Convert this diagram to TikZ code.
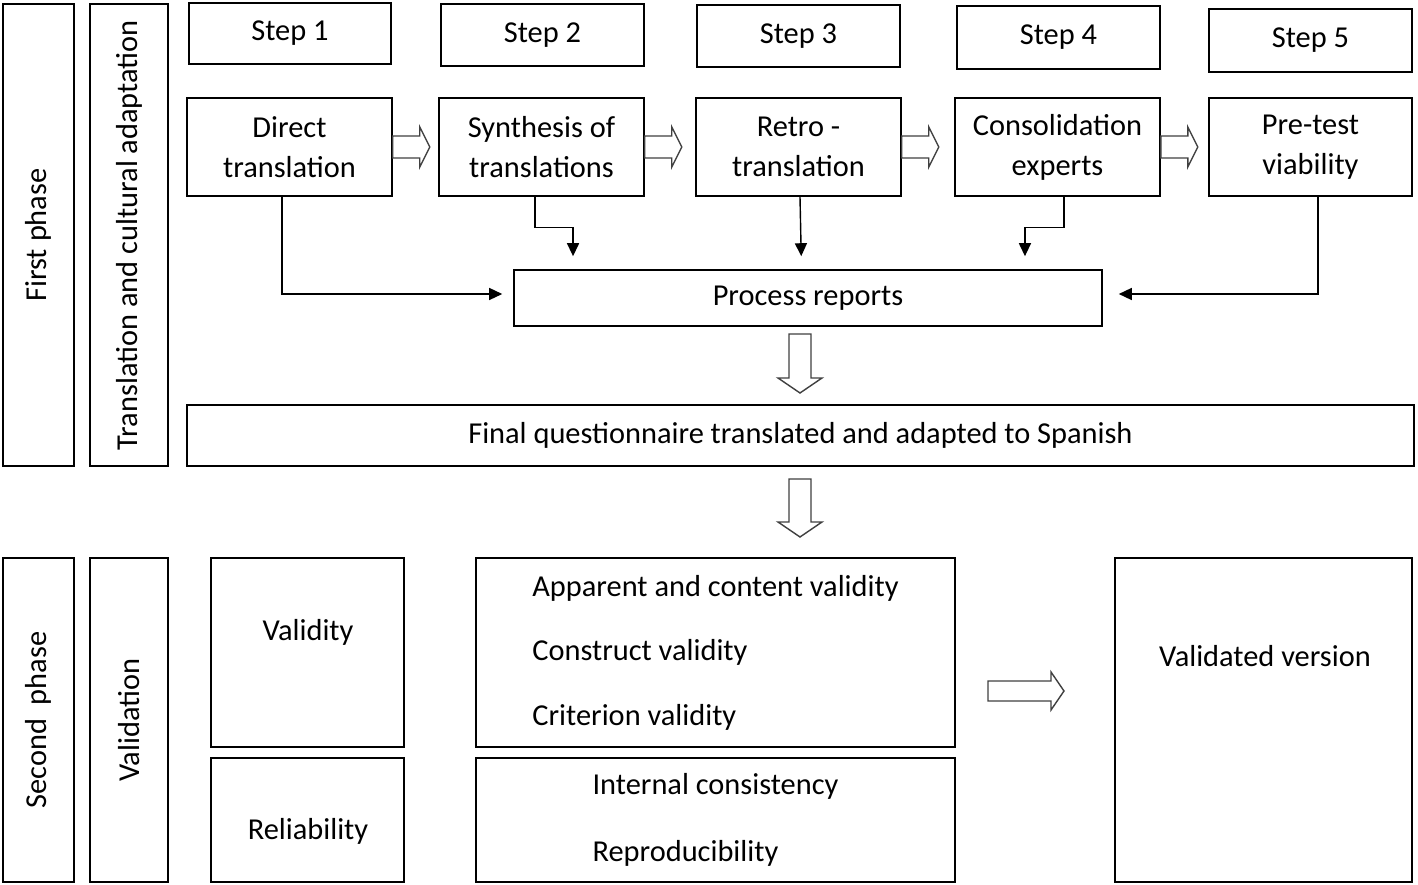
\documentclass[tikz,border=0pt]{standalone}
\usepackage{fontspec}
\setmainfont{Carlito}
\usetikzlibrary{arrows.meta}

\begin{document}
\begin{tikzpicture}
  [
    x=0.02cm, y=-0.02cm,
    font=\fontsize{17.3}{22.7}\selectfont,
    line width=0.9pt,
    wh/.style 2 args={minimum width=#1*0.02cm, minimum height=#2*0.02cm},
    box/.style={draw, inner sep=0pt, align=center},
    con/.style={-{Triangle[width=0.24cm, length=0.26cm]}, line width=0.8pt},
    pics/hollow/.style n args={4}{code={
      \draw[fill=white, line width=0.8pt, draw=black!75] (0,-#2) -- ({#1-#4},-#2) -- ({#1-#4},-#3) -- (#1,0)
        -- ({#1-#4},#3) -- ({#1-#4},#2) -- (0,#2) -- cycle;}}
    ]
  \useasboundingbox (0,0) rectangle (1418,885);

  % first phase
  \node[box, wh={462}{71}, rotate=90] (fp) at (38.5,235) {First phase};
  \node[box, wh={462}{78}, rotate=90] (tc) at (129,235) {Translation and cultural adaptation};

  \node[box, wh={202}{61}] (s1) at (290,33.5) {Step 1};
  \node[box, wh={203}{62}] (s2) at (542.5,35) {Step 2};
  \node[box, wh={203}{62}] (s3) at (798.5,36) {Step 3};
  \node[box, wh={203}{63}] (s4) at (1058.5,37.5) {Step 4};
  \node[box, wh={203}{63}] (s5) at (1310.5,40.5) {Step 5};

  \node[box, wh={205}{98}] (t1) at (289.5,147) {Direct\\translation};
  \node[box, wh={205}{98}] (t2) at (541.5,147) {Synthesis of\\translations};
  \node[box, wh={205}{98}] (t3) at (798.5,147) {Retro -\\translation};
  \node[box, wh={205}{98}] (t4) at (1057.5,147) {Consolidation\\experts};
  \node[box, wh={203}{98}] (t5) at (1310.5,147) {Pre-test\\viability};

  \pic at (t1.east) {hollow={37}{11}{20}{10}};
  \pic at (t2.east) {hollow={37}{11}{20}{10}};
  \pic at (t3.east) {hollow={37}{11}{20}{10}};
  \pic at (t4.east) {hollow={37}{11}{20}{10}};

  \node[box, wh={588}{56}] (pr) at (808,298) {Process reports};

  \draw[con, shorten >=0.22cm] ([xshift=-0.15cm]t1.south) |- ([yshift=0.08cm]pr.west);
  \draw[con, shorten >=0.26cm] ([xshift=-0.13cm]t2.south) -- ++(0,31) -| ([xshift=-4.7cm]pr.north);
  \draw[con, shorten >=0.26cm] ([xshift=0.03cm]t3.south) -- ([xshift=-0.13cm]pr.north);
  \draw[con, shorten >=0.26cm] ([xshift=0.13cm]t4.south) -- ++(0,31) -| ([xshift=4.34cm]pr.north);
  \draw[con, shorten >=0.32cm] ([xshift=0.15cm]t5.south) |- ([yshift=0.08cm]pr.east);

  \pic[rotate=-90] at (800,334) {hollow={59}{11}{22}{15}};

  \node[box, wh={1227}{61}] (fq) at (800.5,435.5) {Final questionnaire translated and adapted to Spanish};

  \pic[rotate=-90] at (800,479) {hollow={58}{11}{22}{15}};

  % second phase
  \node[box, wh={324}{71}, rotate=90] (sp) at (38.5,720) {Second\ \ phase};
  \node[box, wh={324}{78}, rotate=90] (va) at (129,720) {Validation};

  \node[box, wh={193}{189}] (vy) at (307.5,652.5) {};
  \node (vyt) at (308,632) {Validity};
  \node[box, wh={193}{124}] (rl) at (307.5,820) {};
  \node (rlt) at (308,831) {Reliability};

  \node[box, wh={479}{189}, align=left] (cv) at (715.5,652.5)
    {Apparent and content validity\\[14pt]Construct validity\\[14pt]Criterion validity};
  \node[box, wh={479}{124}, align=left] (ic) at (715.5,820)
    {Internal consistency\\[15pt]Reproducibility};

  \pic at (988,691) {hollow={76}{10}{19}{13}};

  \node[box, wh={297}{324}] (vv) at (1263.5,720) {};
  \node (vvt) at (1265,656) {Validated version};
\end{tikzpicture}
\end{document}
